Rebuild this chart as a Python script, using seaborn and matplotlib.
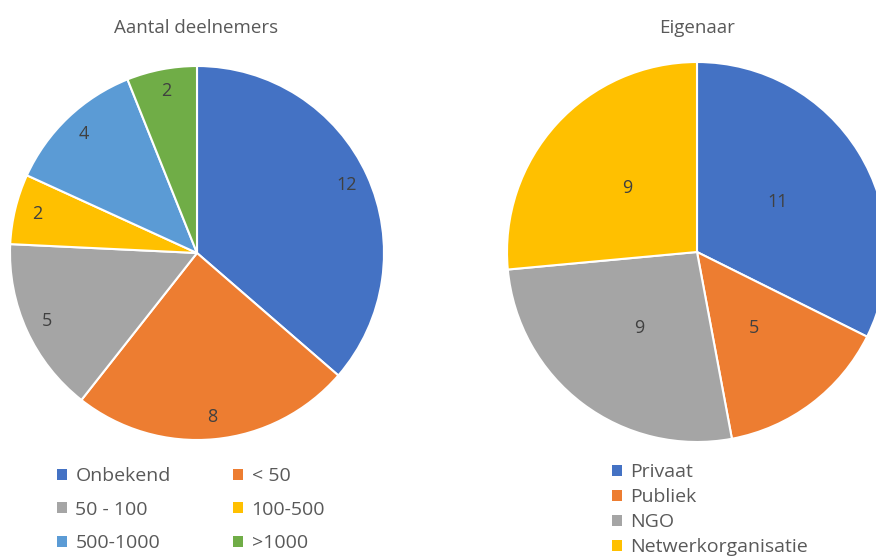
import matplotlib
matplotlib.use("Agg")
import matplotlib.pyplot as plt
from matplotlib.patches import Patch
import numpy as np
import seaborn as sns

# Data
deelnemers_labels = ["Onbekend", "< 50", "50 - 100", "100-500", "500-1000", ">1000"]
deelnemers_values = [12, 8, 5, 2, 4, 2]
deelnemers_colors = ["#4472C4", "#ED7D31", "#A5A5A5", "#FFC000", "#5B9BD5", "#70AD47"]

eigenaar_labels = ["Privaat", "Publiek", "NGO", "Netwerkorganisatie"]
eigenaar_values = [11, 5, 9, 9]
eigenaar_colors = ["#4472C4", "#ED7D31", "#A5A5A5", "#FFC000"]

title_left = "Aantal deelnemers"
title_right = "Eigenaar"

sns.set_theme(style="white")
plt.rcParams["font.family"] = ["Open Sans", "DejaVu Sans"]

W, H = 876, 556
fig = plt.figure(figsize=(W / 100, H / 100), dpi=100)
fig.patch.set_facecolor("white")

def px_axes(cx, cy, r):
    return fig.add_axes([(cx - r) / W, (H - cy - r) / H, 2 * r / W, 2 * r / H])

text_col = "#404040"
title_col = "#595959"

# Left pie
ax1 = px_axes(197, 253, 187)
w1, t1 = ax1.pie(deelnemers_values, colors=deelnemers_colors, startangle=90,
                 counterclock=False, radius=1.0,
                 wedgeprops=dict(edgecolor="white", linewidth=1.5))
for w, v in zip(w1, deelnemers_values):
    ang = np.deg2rad((w.theta1 + w.theta2) / 2)
    ax1.text(0.88 * np.cos(ang), 0.88 * np.sin(ang), str(v), ha="center", va="center",
             fontsize=13, color=text_col)
ax1.set_xlim(-1.0, 1.0); ax1.set_ylim(-1.0, 1.0)
ax1.set_aspect("equal")
ax1.axis("off")

# Right pie
ax2 = px_axes(697, 252, 190)
w2, t2 = ax2.pie(eigenaar_values, colors=eigenaar_colors, startangle=90,
                 counterclock=False, radius=1.0,
                 wedgeprops=dict(edgecolor="white", linewidth=1.5))
for w, v in zip(w2, eigenaar_values):
    ang = np.deg2rad((w.theta1 + w.theta2) / 2)
    ax2.text(0.5 * np.cos(ang), 0.5 * np.sin(ang), str(v), ha="center", va="center",
             fontsize=13, color=text_col)
ax2.set_xlim(-1.0, 1.0); ax2.set_ylim(-1.0, 1.0)
ax2.set_aspect("equal")
ax2.axis("off")

# Titles
fig.text(196 / W, 1 - 28 / H, title_left, ha="center", va="center", fontsize=13.5, color=title_col)
fig.text(697 / W, 1 - 28 / H, title_right, ha="center", va="center", fontsize=13.5, color=title_col)

# Legends
h1 = [Patch(facecolor=c, edgecolor="none") for c in deelnemers_colors]
order = [0, 2, 4, 1, 3, 5]
leg1 = fig.legend([h1[i] for i in order], [deelnemers_labels[i] for i in order],
                  ncol=2, loc="upper left", bbox_to_anchor=(57 / W, 1 - 467 / H),
                  frameon=False, fontsize=14, handlelength=0.5, handleheight=0.5,
                  handletextpad=0.45, columnspacing=3.2, labelspacing=0.8,
                  labelcolor=title_col, borderaxespad=0, borderpad=0)

h2 = [Patch(facecolor=c, edgecolor="none") for c in eigenaar_colors]
leg2 = fig.legend(h2, eigenaar_labels, loc="upper left", bbox_to_anchor=(612 / W, 1 - 463 / H),
                  frameon=False, fontsize=14, handlelength=0.5, handleheight=0.5,
                  handletextpad=0.45, labelspacing=0.36,
                  labelcolor=title_col, borderaxespad=0, borderpad=0)

fig.savefig("out.png", dpi=100, facecolor="white")
